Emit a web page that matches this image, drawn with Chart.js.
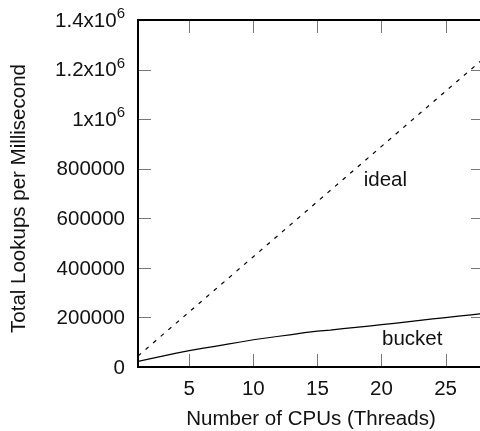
<!DOCTYPE html>
<html>
<head>
<meta charset="utf-8">
<script src="https://cdn.jsdelivr.net/npm/chart.js@4"></script>
<style>
  html, body { margin: 0; padding: 0; background: #fff; overflow: hidden; }
  #wrap { width: 490px; height: 431px; }
</style>
</head>
<body>
<div id="wrap"><canvas id="lookupChart" width="490" height="431"></canvas></div>
<script>
// number of CPUs (threads)
const cpus = [1, 2, 3, 4, 5, 6, 7, 8, 9, 10, 11, 12, 13, 14, 15, 16, 17, 18, 19, 20, 21, 22, 23, 24, 25, 26, 27, 28];
// lookups per millisecond
const idealValues = [44500, 89000, 133500, 178000, 222500, 267000, 311500, 356000, 400500, 445000,
    489500, 534000, 578500, 623000, 667500, 712000, 756500, 801000, 845500, 890000,
    934500, 979000, 1023500, 1068000, 1112500, 1157000, 1201500, 1246000];
const bucketValues = [23000, 34000, 45000, 56000, 66000, 75000, 83000, 92000, 101000, 110000,
    117000, 124000, 131000, 139000, 145000, 149000, 155000, 160000, 165000, 171000,
    176000, 182000, 188000, 194000, 199000, 205000, 210000, 216000];

const xTicks = [5, 10, 15, 20, 25];
const yTicks = [0, 200000, 400000, 600000, 800000, 1000000, 1200000, 1400000];
const yTickText = ['0', '200000', '400000', '600000', '800000', '1x10', '1.2x10', '1.4x10'];
const yTickExp = ['', '', '', '', '', '6', '6', '6'];

// where the curve names sit (data coords)
const seriesLabels = [
    { text: 'ideal', x: 20.3, y: 752000 },
    { text: 'bucket', x: 22.4, y: 112000 }
];

const FONT = '"Liberation Sans", Arial, Helvetica, sans-serif';
const MAIN = '20.5px ' + FONT;
const SUP = '15px ' + FONT;

const gnuplotFrame = {
    id: 'gnuplotFrame',
    afterDatasetsDraw(chart) {
        const ctx = chart.ctx;
        const a = chart.chartArea;
        const xs = chart.scales.x, ys = chart.scales.y;
        ctx.save();

        // inward ticks on all four sides
        ctx.strokeStyle = '#777';
        ctx.lineWidth = 1;
        ctx.beginPath();
        xTicks.forEach(v => {
            const px = Math.round(xs.getPixelForValue(v)) + 0.5;
            ctx.moveTo(px, a.bottom); ctx.lineTo(px, a.bottom - 13);
            ctx.moveTo(px, a.top); ctx.lineTo(px, a.top + 13);
        });
        yTicks.forEach(v => {
            const py = Math.round(ys.getPixelForValue(v)) + 0.5;
            ctx.moveTo(a.left, py); ctx.lineTo(a.left + 13, py);
            ctx.moveTo(a.right, py); ctx.lineTo(a.right - 13, py);
        });
        ctx.stroke();

        // frame
        ctx.strokeStyle = '#000';
        ctx.lineWidth = 2;
        ctx.strokeRect(a.left, a.top, a.right - a.left, a.bottom - a.top);

        ctx.fillStyle = '#111';

        // x tick labels
        ctx.font = MAIN;
        ctx.textAlign = 'center';
        ctx.textBaseline = 'middle';
        xTicks.forEach(v => {
            ctx.fillText(String(v), xs.getPixelForValue(v), a.bottom + 22);
        });

        // y tick labels with superscript exponent
        ctx.textAlign = 'left';
        const rightEdge = a.left - 13;
        yTicks.forEach((v, i) => {
            const py = ys.getPixelForValue(v);
            ctx.font = MAIN;
            const w1 = ctx.measureText(yTickText[i]).width;
            let w2 = 0;
            if (yTickExp[i]) {
                ctx.font = SUP;
                w2 = ctx.measureText(yTickExp[i]).width;
            }
            const x0 = rightEdge - w1 - w2;
            ctx.font = MAIN;
            ctx.fillText(yTickText[i], x0, py + 1);
            if (yTickExp[i]) {
                ctx.font = SUP;
                ctx.fillText(yTickExp[i], x0 + w1, py - 6);
            }
        });

        // axis titles
        ctx.font = MAIN;
        ctx.textAlign = 'center';
        ctx.fillText('Number of CPUs (Threads)', (a.left + a.right) / 2, a.bottom + 52);
        ctx.save();
        ctx.translate(19, (a.top + a.bottom) / 2 + 5);
        ctx.rotate(-Math.PI / 2);
        ctx.fillText('Total Lookups per Millisecond', 0, 0);
        ctx.restore();

        // curve names
        seriesLabels.forEach(l => {
            ctx.fillText(l.text, xs.getPixelForValue(l.x), ys.getPixelForValue(l.y));
        });

        ctx.restore();
    }
};

new Chart(document.getElementById('lookupChart'), {
    type: 'line',
    data: {
        labels: cpus,
        datasets: [
            {
                label: 'ideal',
                data: cpus.map((c, i) => ({ x: c, y: idealValues[i] })),
                borderColor: '#000',
                borderWidth: 1.2,
                borderDash: [4, 6],
                pointRadius: 0,
                fill: false,
                tension: 0
            },
            {
                label: 'bucket',
                data: cpus.map((c, i) => ({ x: c, y: bucketValues[i] })),
                borderColor: '#000',
                borderWidth: 1.2,
                pointRadius: 0,
                fill: false,
                tension: 0
            }
        ]
    },
    options: {
        responsive: false,
        devicePixelRatio: 1,
        animation: false,
        layout: { padding: { left: 138, top: 20, right: 6, bottom: 64 } },
        scales: {
            x: { type: 'linear', min: 1, max: 28, display: false },
            y: { type: 'linear', min: 0, max: 1400000, display: false }
        },
        plugins: {
            legend: { display: false },
            tooltip: { enabled: false }
        }
    },
    plugins: [gnuplotFrame]
});
</script>
</body>
</html>
